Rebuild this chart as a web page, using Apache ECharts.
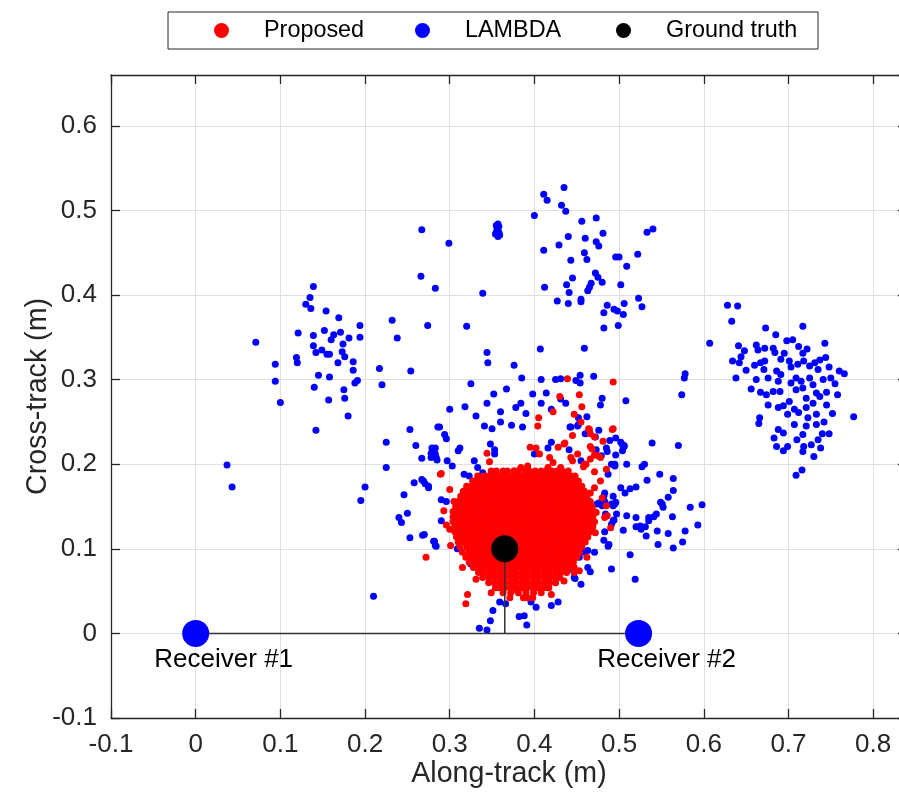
<!DOCTYPE html>
<html>
<head>
<meta charset="utf-8">
<script src="https://cdn.jsdelivr.net/npm/echarts@6/dist/echarts.min.js"></script>
<style>
  html, body { margin: 0; padding: 0; background: #ffffff; }
  #chart { width: 899px; height: 798px; }
</style>
</head>
<body>
<div id="chart"></div>
<script>
// Axis ranges (metres) and tick step
const xRange = [-0.1, 0.84];
const yRange = [-0.1, 0.66];
const tickStep = 0.1;

// Receiver antennas and the true position
const receiverNames = ['Receiver #1', 'Receiver #2'];
const receiverX = [0, 0.523];
const receiverY = [0, 0];
const groundTruth = [0.365, 0.1];

// LAMBDA fixes [along-track, cross-track]
const lambdaPoints = [
  // right-hand cluster
  [0.628,0.388],[0.640,0.387],[0.633,0.369],[0.607,0.343],[0.673,0.361],[0.717,0.363],[0.685,0.353],[0.641,0.340],
  [0.648,0.334],[0.644,0.327],[0.634,0.322],[0.642,0.320],[0.650,0.311],[0.638,0.302],[0.662,0.341],[0.664,0.335],
  [0.672,0.337],[0.660,0.317],[0.667,0.320],[0.672,0.322],[0.671,0.312],[0.682,0.337],[0.684,0.332],[0.691,0.324],
  [0.695,0.331],[0.698,0.346],[0.705,0.347],[0.712,0.339],[0.717,0.331],[0.722,0.336],[0.701,0.322],[0.703,0.315],
  [0.711,0.318],[0.718,0.322],[0.725,0.316],[0.731,0.320],[0.737,0.323],[0.735,0.312],[0.686,0.310],[0.691,0.306],
  [0.688,0.298],[0.676,0.302],[0.662,0.300],[0.656,0.289],[0.667,0.285],[0.674,0.282],[0.682,0.286],[0.690,0.286],
  [0.703,0.296],[0.709,0.302],[0.715,0.298],[0.709,0.288],[0.717,0.290],[0.725,0.302],[0.729,0.294],[0.733,0.284],
  [0.721,0.278],[0.729,0.272],[0.737,0.280],[0.676,0.270],[0.688,0.267],[0.694,0.269],[0.701,0.274],[0.707,0.265],
  [0.699,0.259],[0.712,0.261],[0.721,0.267],[0.723,0.255],[0.733,0.259],[0.666,0.255],[0.665,0.248],[0.688,0.241],
  [0.694,0.237],[0.707,0.247],[0.721,0.245],[0.733,0.247],[0.683,0.231],[0.686,0.221],[0.699,0.221],[0.694,0.216],
  [0.717,0.235],[0.710,0.229],[0.718,0.221],[0.717,0.215],[0.727,0.223],[0.730,0.209],[0.735,0.229],[0.738,0.219],
  [0.716,0.193],[0.709,0.187],[0.743,0.343],[0.748,0.315],[0.755,0.295],[0.745,0.270],[0.752,0.260],[0.760,0.310],
  [0.777,0.256],[0.742,0.250],[0.748,0.236],[0.740,0.236],[0.745,0.285],[0.750,0.302],[0.766,0.307],[0.744,0.326],
  [0.758,0.282],[0.741,0.300],
  [0.578,0.307],[0.577,0.302],[0.574,0.282],[0.508,0.275],[0.539,0.225],[0.570,0.222],[0.504,0.223],[0.506,0.221],
  [0.509,0.200],[0.527,0.197],[0.530,0.200],[0.548,0.188],[0.564,0.183],[0.533,0.181],
  // upper cluster
  [0.435,0.527],[0.411,0.519],[0.415,0.512],[0.432,0.506],[0.437,0.499],[0.400,0.494],[0.473,0.491],[0.456,0.487],
  [0.481,0.473],[0.440,0.469],[0.429,0.459],[0.460,0.467],[0.473,0.463],[0.476,0.458],[0.411,0.453],[0.459,0.450],
  [0.462,0.442],[0.443,0.441],[0.496,0.445],[0.500,0.445],[0.522,0.448],[0.533,0.474],[0.540,0.478],[0.509,0.434],
  [0.472,0.426],[0.475,0.421],[0.480,0.415],[0.445,0.420],[0.438,0.412],[0.467,0.414],[0.465,0.409],[0.463,0.405],
  [0.441,0.403],[0.412,0.409],[0.502,0.412],[0.427,0.393],[0.440,0.390],[0.455,0.395],[0.455,0.392],[0.523,0.396],
  [0.527,0.386],[0.506,0.390],[0.486,0.388],[0.494,0.383],[0.498,0.381],[0.505,0.377],[0.482,0.379],[0.499,0.364],
  [0.482,0.361],[0.459,0.337],[0.407,0.336],[0.299,0.461],[0.339,0.402],[0.320,0.363],
  [0.355,0.482],[0.357,0.484],[0.358,0.481],[0.356,0.476],[0.358,0.474],[0.354,0.472],[0.357,0.469],[0.359,0.471],
  [0.356,0.479],[0.355,0.474],
  // left-hand cluster
  [0.267,0.477],[0.266,0.422],[0.283,0.408],[0.139,0.410],[0.135,0.397],[0.130,0.389],[0.136,0.384],[0.154,0.381],
  [0.169,0.373],[0.232,0.370],[0.274,0.364],[0.194,0.364],[0.152,0.358],[0.121,0.355],[0.139,0.352],[0.163,0.353],
  [0.160,0.347],[0.171,0.356],[0.181,0.349],[0.194,0.350],[0.174,0.342],[0.238,0.349],[0.071,0.344],[0.139,0.340],
  [0.142,0.332],[0.149,0.335],[0.155,0.330],[0.158,0.330],[0.173,0.333],[0.176,0.327],[0.119,0.326],[0.120,0.320],
  [0.094,0.318],[0.168,0.320],[0.186,0.321],[0.186,0.311],[0.217,0.313],[0.220,0.294],[0.094,0.298],[0.145,0.305],
  [0.158,0.303],[0.188,0.296],[0.191,0.299],[0.140,0.291],[0.175,0.288],[0.157,0.276],[0.176,0.278],[0.100,0.273],
  [0.180,0.257],[0.142,0.240],[0.225,0.226],[0.225,0.196],[0.037,0.199],[0.043,0.173],[0.200,0.173],[0.195,0.157],
  [0.240,0.137],[0.254,0.310],
  // around the main cloud
  [0.253,0.241],[0.286,0.244],[0.260,0.222],[0.279,0.219],[0.283,0.219],[0.278,0.208],[0.285,0.205],[0.267,0.207],
  [0.267,0.182],[0.271,0.177],[0.275,0.172],[0.258,0.178],[0.246,0.164],[0.250,0.142],[0.243,0.131],[0.253,0.113],
  [0.268,0.116],[0.281,0.109],[0.283,0.104],[0.210,0.044],
  [0.288,0.244],[0.294,0.235],[0.296,0.230],[0.350,0.242],[0.386,0.244],[0.420,0.226],[0.443,0.244],[0.451,0.245],
  [0.348,0.224],[0.312,0.219],[0.310,0.216],[0.283,0.212],[0.278,0.213],[0.284,0.208],[0.297,0.204],[0.303,0.198],
  [0.329,0.204],[0.333,0.196],[0.339,0.190],[0.317,0.188],[0.323,0.186],[0.353,0.217],[0.353,0.212],[0.400,0.212],
  [0.416,0.219],[0.455,0.204],[0.269,0.180],[0.275,0.174],[0.290,0.158],[0.296,0.156],[0.305,0.137],[0.290,0.133],
  [0.270,0.117],[0.282,0.109],[0.284,0.103],[0.309,0.100],[0.325,0.082],[0.361,0.056],[0.359,0.037],[0.366,0.035],
  [0.351,0.027],[0.388,0.021],[0.396,0.037],[0.402,0.031],[0.420,0.033],[0.428,0.037],[0.447,0.066],[0.455,0.058],
  [0.463,0.078],[0.471,0.096],[0.487,0.103],[0.493,0.133],[0.483,0.156],[0.493,0.162],[0.495,0.153],[0.483,0.166],
  [0.495,0.200],[0.487,0.188],[0.455,0.101],[0.463,0.098],[0.447,0.094],
  [0.335,0.006],[0.344,0.004],[0.391,0.010],[0.382,0.020],[0.348,0.015],
  [0.454,0.305],[0.470,0.304],[0.449,0.299],[0.454,0.296],[0.431,0.301],[0.480,0.278],[0.478,0.270],[0.437,0.272],
  [0.452,0.255],[0.452,0.247],[0.462,0.256],[0.442,0.244],[0.476,0.240],[0.460,0.236],[0.472,0.232],[0.496,0.231],
  [0.502,0.226],[0.506,0.222],[0.504,0.216],[0.489,0.228],[0.485,0.219],[0.486,0.215],[0.441,0.217],[0.473,0.217],
  [0.479,0.210],[0.496,0.211],[0.495,0.198],[0.491,0.200],[0.520,0.173],[0.513,0.171],[0.507,0.166],[0.502,0.172],
  [0.564,0.169],[0.558,0.161],[0.549,0.155],[0.551,0.153],[0.552,0.149],[0.544,0.141],[0.541,0.138],[0.535,0.137],
  [0.535,0.133],[0.563,0.138],[0.584,0.149],[0.598,0.152],[0.593,0.128],[0.578,0.121],[0.558,0.118],[0.545,0.121],
  [0.532,0.115],[0.520,0.126],[0.525,0.127],[0.531,0.126],[0.526,0.123],[0.509,0.139],[0.520,0.137],[0.505,0.122],
  [0.497,0.141],[0.494,0.134],[0.491,0.129],[0.493,0.151],[0.491,0.153],[0.496,0.155],[0.482,0.162],[0.480,0.151],
  [0.484,0.141],[0.483,0.120],[0.482,0.110],[0.488,0.105],[0.575,0.108],[0.564,0.101],[0.546,0.105],[0.513,0.093],
  [0.491,0.076],[0.519,0.064],[0.466,0.073],[0.456,0.101],[0.451,0.098],[0.459,0.096],[0.453,0.090],[0.448,0.065],
  [0.439,0.074],[0.476,0.154],[0.474,0.153],
  [0.344,0.332],[0.345,0.320],[0.376,0.317],[0.385,0.302],[0.408,0.300],[0.398,0.283],[0.425,0.300],[0.378,0.267],
  [0.360,0.262],[0.384,0.272],[0.408,0.272],[0.414,0.284],[0.431,0.277],[0.325,0.295],[0.344,0.272],[0.331,0.257],
  [0.360,0.250],[0.341,0.245],[0.373,0.246],[0.318,0.268],[0.300,0.265],[0.390,0.260],[0.420,0.265],[0.352,0.283],
  [0.367,0.289]
];

// Proposed fixes outside the dense core [along-track, cross-track]
const proposedOuter = [
  [0.439,0.301],[0.493,0.297],[0.453,0.282],[0.456,0.268],[0.447,0.259],[0.465,0.241],[0.466,0.236],[0.492,0.241],
  [0.481,0.227],[0.436,0.225],[0.466,0.221],[0.468,0.218],[0.443,0.208],[0.445,0.204],[0.471,0.211],[0.478,0.208],
  [0.461,0.200],[0.458,0.197],[0.485,0.194],[0.471,0.191],[0.471,0.172],[0.466,0.166],[0.473,0.143],[0.469,0.141],
  [0.486,0.139],[0.472,0.119],[0.466,0.121],[0.462,0.090],[0.447,0.090],[0.451,0.094],[0.447,0.078],[0.453,0.074],
  [0.439,0.086],[0.404,0.245],[0.464,0.242],[0.493,0.242],[0.471,0.232],[0.395,0.220],[0.402,0.219],[0.428,0.220],
  [0.435,0.224],[0.344,0.213],[0.347,0.203],[0.290,0.189],[0.406,0.212],[0.418,0.208],[0.422,0.202],[0.416,0.196],
  [0.451,0.212],[0.459,0.200],[0.466,0.206],[0.475,0.210],[0.376,0.192],[0.384,0.196],[0.392,0.198],[0.305,0.156],
  [0.317,0.156],[0.293,0.145],[0.300,0.123],[0.301,0.104],[0.272,0.090],[0.289,0.188],[0.315,0.078],[0.321,0.046],
  [0.319,0.035],[0.349,0.048],[0.339,0.070],[0.331,0.064],[0.380,0.050],[0.392,0.042],[0.404,0.058],[0.416,0.054],
  [0.420,0.046],[0.428,0.068],[0.435,0.062],[0.447,0.072],[0.483,0.137],[0.485,0.151],[0.463,0.156],[0.459,0.121],
  [0.451,0.113],[0.405,0.255],[0.422,0.262],[0.430,0.280],[0.445,0.234],[0.455,0.250],[0.478,0.180],[0.480,0.160],
  [0.490,0.125],[0.300,0.170],[0.296,0.128],[0.431,0.196],[0.439,0.188],[0.447,0.180],[0.455,0.172]
];

// Proposed dense core: [cross-track, along-track values on that row]
const proposedCoreRows = [
  [0.192,[0.349,0.355,0.363,0.368,0.376,0.381,0.389,0.394,0.401,0.408,0.414,0.421,0.427,0.433,0.440]],
  [0.186,[0.333,0.340,0.346,0.352,0.359,0.365,0.372,0.378,0.385,0.391,0.398,0.404,0.411,0.417,0.424,0.430,0.437,0.443,0.448]],
  [0.180,[0.327,0.330,0.336,0.343,0.349,0.356,0.362,0.368,0.375,0.381,0.388,0.395,0.401,0.407,0.414,0.421,0.427,0.433,0.440,0.446,0.452]],
  [0.174,[0.320,0.326,0.333,0.339,0.346,0.352,0.359,0.365,0.372,0.378,0.385,0.391,0.398,0.404,0.411,0.417,0.424,0.430,0.437,0.443,0.450,0.456]],
  [0.168,[0.316,0.323,0.329,0.336,0.343,0.349,0.355,0.362,0.369,0.375,0.381,0.388,0.394,0.401,0.408,0.414,0.420,0.427,0.434,0.440,0.446,0.453,0.459]],
  [0.162,[0.313,0.320,0.326,0.333,0.339,0.346,0.352,0.359,0.365,0.372,0.378,0.385,0.391,0.398,0.404,0.411,0.417,0.424,0.430,0.437,0.443,0.450,0.456,0.462]],
  [0.156,[0.310,0.316,0.323,0.330,0.336,0.342,0.349,0.356,0.362,0.368,0.375,0.382,0.388,0.394,0.401,0.407,0.414,0.421,0.427,0.433,0.440,0.447,0.453,0.459,0.466]],
  [0.150,[0.307,0.313,0.320,0.326,0.333,0.339,0.346,0.352,0.359,0.365,0.372,0.378,0.385,0.391,0.398,0.404,0.411,0.417,0.424,0.430,0.437,0.443,0.450,0.456,0.463,0.468]],
  [0.144,[0.304,0.310,0.317,0.323,0.329,0.336,0.343,0.349,0.355,0.362,0.369,0.375,0.381,0.388,0.395,0.401,0.407,0.414,0.420,0.427,0.434,0.440,0.446,0.453,0.460,0.466,0.471]],
  [0.138,[0.304,0.307,0.313,0.320,0.326,0.333,0.339,0.346,0.352,0.359,0.365,0.372,0.378,0.385,0.391,0.398,0.404,0.411,0.417,0.424,0.430,0.437,0.443,0.450,0.456,0.463,0.469]],
  [0.132,[0.304,0.310,0.316,0.323,0.330,0.336,0.342,0.349,0.356,0.362,0.368,0.375,0.382,0.388,0.394,0.401,0.408,0.414,0.420,0.427,0.433,0.440,0.447,0.453,0.459,0.466,0.471]],
  [0.126,[0.306,0.313,0.320,0.326,0.333,0.339,0.346,0.352,0.359,0.365,0.372,0.378,0.385,0.391,0.398,0.404,0.411,0.417,0.424,0.430,0.437,0.443,0.450,0.456,0.463,0.469]],
  [0.120,[0.306,0.310,0.317,0.323,0.329,0.336,0.343,0.349,0.355,0.362,0.369,0.375,0.381,0.388,0.395,0.401,0.407,0.414,0.421,0.427,0.433,0.440,0.447,0.453,0.459,0.466]],
  [0.114,[0.308,0.313,0.320,0.326,0.333,0.339,0.346,0.352,0.359,0.365,0.372,0.378,0.385,0.391,0.398,0.404,0.411,0.417,0.424,0.430,0.437,0.443,0.450,0.456,0.463]],
  [0.108,[0.310,0.316,0.323,0.330,0.336,0.342,0.349,0.356,0.362,0.368,0.375,0.382,0.388,0.394,0.401,0.408,0.414,0.420,0.427,0.434,0.440,0.446,0.453,0.460]],
  [0.102,[0.312,0.320,0.326,0.333,0.339,0.346,0.352,0.359,0.365,0.372,0.378,0.385,0.391,0.398,0.404,0.411,0.417,0.424,0.430,0.437,0.443,0.450,0.456]],
  [0.096,[0.315,0.323,0.329,0.336,0.343,0.349,0.355,0.362,0.369,0.375,0.381,0.388,0.395,0.401,0.407,0.414,0.421,0.427,0.433,0.440,0.447,0.453]],
  [0.090,[0.319,0.326,0.333,0.339,0.346,0.352,0.359,0.365,0.372,0.378,0.385,0.391,0.398,0.404,0.411,0.417,0.424,0.430,0.437,0.443,0.450]],
  [0.084,[0.323,0.330,0.336,0.342,0.349,0.356,0.362,0.368,0.375,0.382,0.388,0.394,0.401,0.408,0.414,0.420,0.427,0.434,0.440,0.446]],
  [0.078,[0.328,0.333,0.339,0.346,0.352,0.359,0.365,0.372,0.378,0.385,0.391,0.398,0.404,0.411,0.417,0.424,0.430,0.437,0.443]],
  [0.072,[0.334,0.340,0.347,0.353,0.360,0.366,0.373,0.379,0.386,0.392,0.399,0.405,0.412,0.418,0.425,0.431,0.438]],
  [0.066,[0.339,0.346,0.352,0.359,0.365,0.372,0.378,0.385,0.391,0.398,0.404,0.411,0.417,0.424,0.430]],
  [0.060,[0.346,0.353,0.360,0.366,0.373,0.379,0.386,0.392,0.399,0.405,0.412,0.418,0.425]],
  [0.054,[0.354,0.359,0.365,0.372,0.378,0.385,0.391,0.398,0.404,0.411,0.417]],
  [0.048,[0.363,0.372,0.381,0.390,0.399,0.408]],
  [0.042,[0.371,0.387,0.398]]
];

const proposedPoints = proposedOuter.concat(
  proposedCoreRows.flatMap(([y, xs]) => xs.map(x => [x, y]))
);

const FONT = "'Liberation Sans', Arial, Helvetica, sans-serif";
const AXIS_COLOR = '#262626';
const GRID_COLOR = '#dfdfdf';

const chart = echarts.init(document.getElementById('chart'), null, { renderer: 'canvas' });

const baseAxis = {
  type: 'value',
  interval: tickStep,
  axisLine: { show: true, onZero: false, lineStyle: { color: AXIS_COLOR, width: 1.3 } },
  axisTick: { show: true, inside: true, length: 9, lineStyle: { color: AXIS_COLOR, width: 1.3 } }
};

const option = {
  animation: false,
  backgroundColor: '#ffffff',
  textStyle: { fontFamily: FONT },
  // the plot box runs a few pixels past the right edge of the canvas
  grid: {
    left: 111, width: 796, top: 75, bottom: 80,
    containLabel: false, outerBoundsMode: 'none'
  },
  legend: {
    data: ['Proposed', 'LAMBDA', 'Ground truth'],
    left: 168,
    top: 12,
    orient: 'horizontal',
    icon: 'circle',
    itemWidth: 15,
    itemHeight: 15,
    itemGap: 19,
    padding: [7, 20, 7, 46],
    borderColor: AXIS_COLOR,
    borderWidth: 1,
    backgroundColor: '#ffffff',
    selectedMode: false,
    textStyle: {
      fontFamily: FONT, fontSize: 23.4, color: '#000000',
      width: 132, lineHeight: 23, padding: [0, 0, 0, 30]
    }
  },
  xAxis: [
    Object.assign({}, baseAxis, {
      min: xRange[0], max: xRange[1], position: 'bottom',
      name: 'Along-track (m)', nameLocation: 'middle', nameGap: 42, nameMoveOverlap: false,
      nameTextStyle: { fontFamily: FONT, fontSize: 28.6, color: AXIS_COLOR },
      axisLabel: { fontFamily: FONT, fontSize: 26, color: AXIS_COLOR, margin: 14, showMaxLabel: false },
      splitLine: { show: true, lineStyle: { color: GRID_COLOR, width: 1 } }
    }),
    Object.assign({}, baseAxis, {
      min: xRange[0], max: xRange[1], position: 'top',
      axisLabel: { show: false }, splitLine: { show: false }
    })
  ],
  yAxis: [
    Object.assign({}, baseAxis, {
      min: yRange[0], max: yRange[1], position: 'left',
      name: 'Cross-track (m)', nameLocation: 'middle', nameGap: 58, nameMoveOverlap: false,
      nameTextStyle: { fontFamily: FONT, fontSize: 28.6, color: AXIS_COLOR },
      axisLabel: { fontFamily: FONT, fontSize: 26, color: AXIS_COLOR, margin: 14, showMaxLabel: false },
      splitLine: { show: true, lineStyle: { color: GRID_COLOR, width: 1 } }
    }),
    Object.assign({}, baseAxis, {
      min: yRange[0], max: yRange[1], position: 'right',
      axisLabel: { show: false }, splitLine: { show: false }
    })
  ],
  series: [
    {
      name: 'LAMBDA', type: 'scatter', xAxisIndex: 0, yAxisIndex: 0,
      data: lambdaPoints, symbol: 'circle', symbolSize: 7, z: 2,
      itemStyle: { color: '#0000ff', opacity: 1 }, emphasis: { disabled: true }
    },
    {
      name: 'Proposed', type: 'scatter', xAxisIndex: 0, yAxisIndex: 0,
      data: proposedPoints, symbol: 'circle', symbolSize: 7, z: 3,
      itemStyle: { color: '#ff0000', opacity: 1 }, emphasis: { disabled: true }
    },
    {
      name: 'Baseline', type: 'line', z: 4, symbol: 'none', silent: true,
      data: receiverX.map((x, i) => [x, receiverY[i]]),
      lineStyle: { color: '#333333', width: 1.5 }
    },
    {
      name: 'Projection', type: 'line', z: 4, symbol: 'none', silent: true,
      data: [[groundTruth[0], 0], groundTruth],
      lineStyle: { color: '#333333', width: 1.5 }
    },
    {
      name: 'Receivers', type: 'scatter', z: 5, symbol: 'circle', symbolSize: 27,
      itemStyle: { color: '#0000ff', opacity: 1 }, emphasis: { disabled: true },
      data: receiverX.map((x, i) => ({ name: receiverNames[i], value: [x, receiverY[i]] })),
      label: {
        show: true, position: 'bottom', distance: 0, offset: [28, 0],
        formatter: '{b}', fontFamily: FONT, fontSize: 26, color: '#000000'
      }
    },
    {
      name: 'Ground truth', type: 'scatter', z: 6, symbol: 'circle', symbolSize: 27,
      itemStyle: { color: '#000000', opacity: 1 }, emphasis: { disabled: true },
      data: [groundTruth]
    }
  ]
};

chart.setOption(option);
</script>
</body>
</html>
